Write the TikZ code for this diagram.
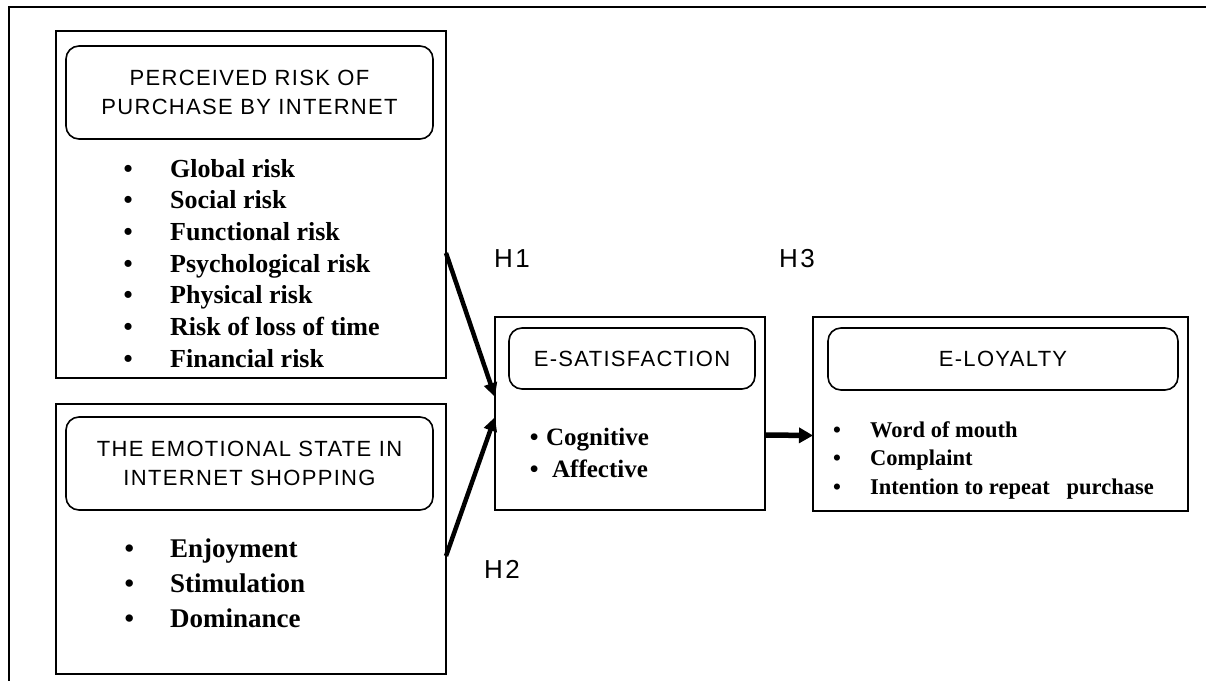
\documentclass[tikz,border=0pt]{standalone}
\usepackage{fontspec}
\setmainfont{Liberation Serif}
\setsansfont{Liberation Sans}
\usetikzlibrary{arrows.meta}
\newcommand{\itembul}[2]{\makebox[#1][l]{\textbullet}#2}

\begin{document}
\begin{tikzpicture}[x=1pt,y=-1pt,
    framebox/.style={draw, line width=1.6pt, anchor=north west, outer sep=0pt, inner sep=0pt},
    headbox/.style={draw, rounded corners=13pt, line width=1.6pt, align=center, outer sep=0pt, inner sep=0pt, font=\sffamily\fontsize{22}{28.5}\selectfont\addfontfeatures{LetterSpace=6}},
    itemline/.style={anchor=base west, inner sep=0pt, font=\bfseries\fontsize{#1}{#1}\selectfont},
    hlabel/.style={font=\sffamily\fontsize{26}{30}\selectfont\addfontfeatures{LetterSpace=10}, inner sep=0pt},
    link/.style={line width=4.5pt, -{Triangle[length=14pt,width=13pt]}}]
  \useasboundingbox (0,0) rectangle (1206,680);
  \draw[line width=1.5pt] (9,700) |- (1220,7);

  % left column
  \node[framebox, minimum width=390pt, minimum height=347pt] (riskbox) at (56,31) {};
  \node[headbox, minimum width=367pt, minimum height=93pt] (riskhead) at (249.5,92.5) {PERCEIVED RISK OF\\PURCHASE BY INTERNET};
  \foreach \lbl [count=\i] in {Global risk, Social risk, Functional risk, Psychological risk, Physical risk, Risk of loss of time, Financial risk}
    \node[itemline=26] (risk\i) at (123.5,{177+31.7*(\i-1)}) {\itembul{46.5pt}{\lbl}};

  \node[framebox, minimum width=390pt, minimum height=270pt] (moodbox) at (56,404) {};
  \node[headbox, minimum width=367pt, minimum height=93pt] (moodhead) at (249.5,463.5) {THE EMOTIONAL STATE IN\\INTERNET SHOPPING};
  \foreach \lbl [count=\i] in {Enjoyment, Stimulation, Dominance}
    \node[itemline=27] (mood\i) at (124.3,{557+35*(\i-1)}) {\itembul{45.7pt}{\lbl}};

  % middle and right
  \node[framebox, minimum width=270pt, minimum height=193pt] (satbox) at (495,317) {};
  \node[headbox, minimum width=246pt, minimum height=61pt] (sathead) at (632,358.5) {E-SATISFACTION};
  \foreach \w/\lbl [count=\i] in {16.4pt/Cognitive, 22.4pt/Affective}
    \node[itemline=25] (sat\i) at (529.6,{445+32*(\i-1)}) {\itembul{\w}{\lbl}};

  \node[framebox, minimum width=375pt, minimum height=194pt] (loybox) at (813,317) {};
  \node[headbox, minimum width=350pt, minimum height=62pt] (loyhead) at (1003,359) {E-LOYALTY};
  \foreach \lbl [count=\i] in {Word of mouth, Complaint, Intention to repeat\enspace\ purchase}
    \node[itemline=22.5] (loy\i) at (833,{437+28.5*(\i-1)}) {\itembul{37pt}{\lbl}};

  % hypotheses
  \draw[link] ([yshift=-48.5pt]riskbox.east) -- ([yshift=16.5pt]satbox.west);
  \draw[link] ([yshift=-17pt]moodbox.east) -- ([yshift=-3.5pt]satbox.west);
  \draw[link, line width=5.5pt, -{Triangle[length=14pt,width=15pt]}] ([yshift=-21.5pt]satbox.east) -- ([yshift=-21.5pt]loybox.west);
  \node[hlabel] (h1) at (512,259) {H1};
  \node[hlabel] (h3) at (797,259) {H3};
  \node[hlabel] (h2) at (502,569) {H2};
\end{tikzpicture}
\end{document}
